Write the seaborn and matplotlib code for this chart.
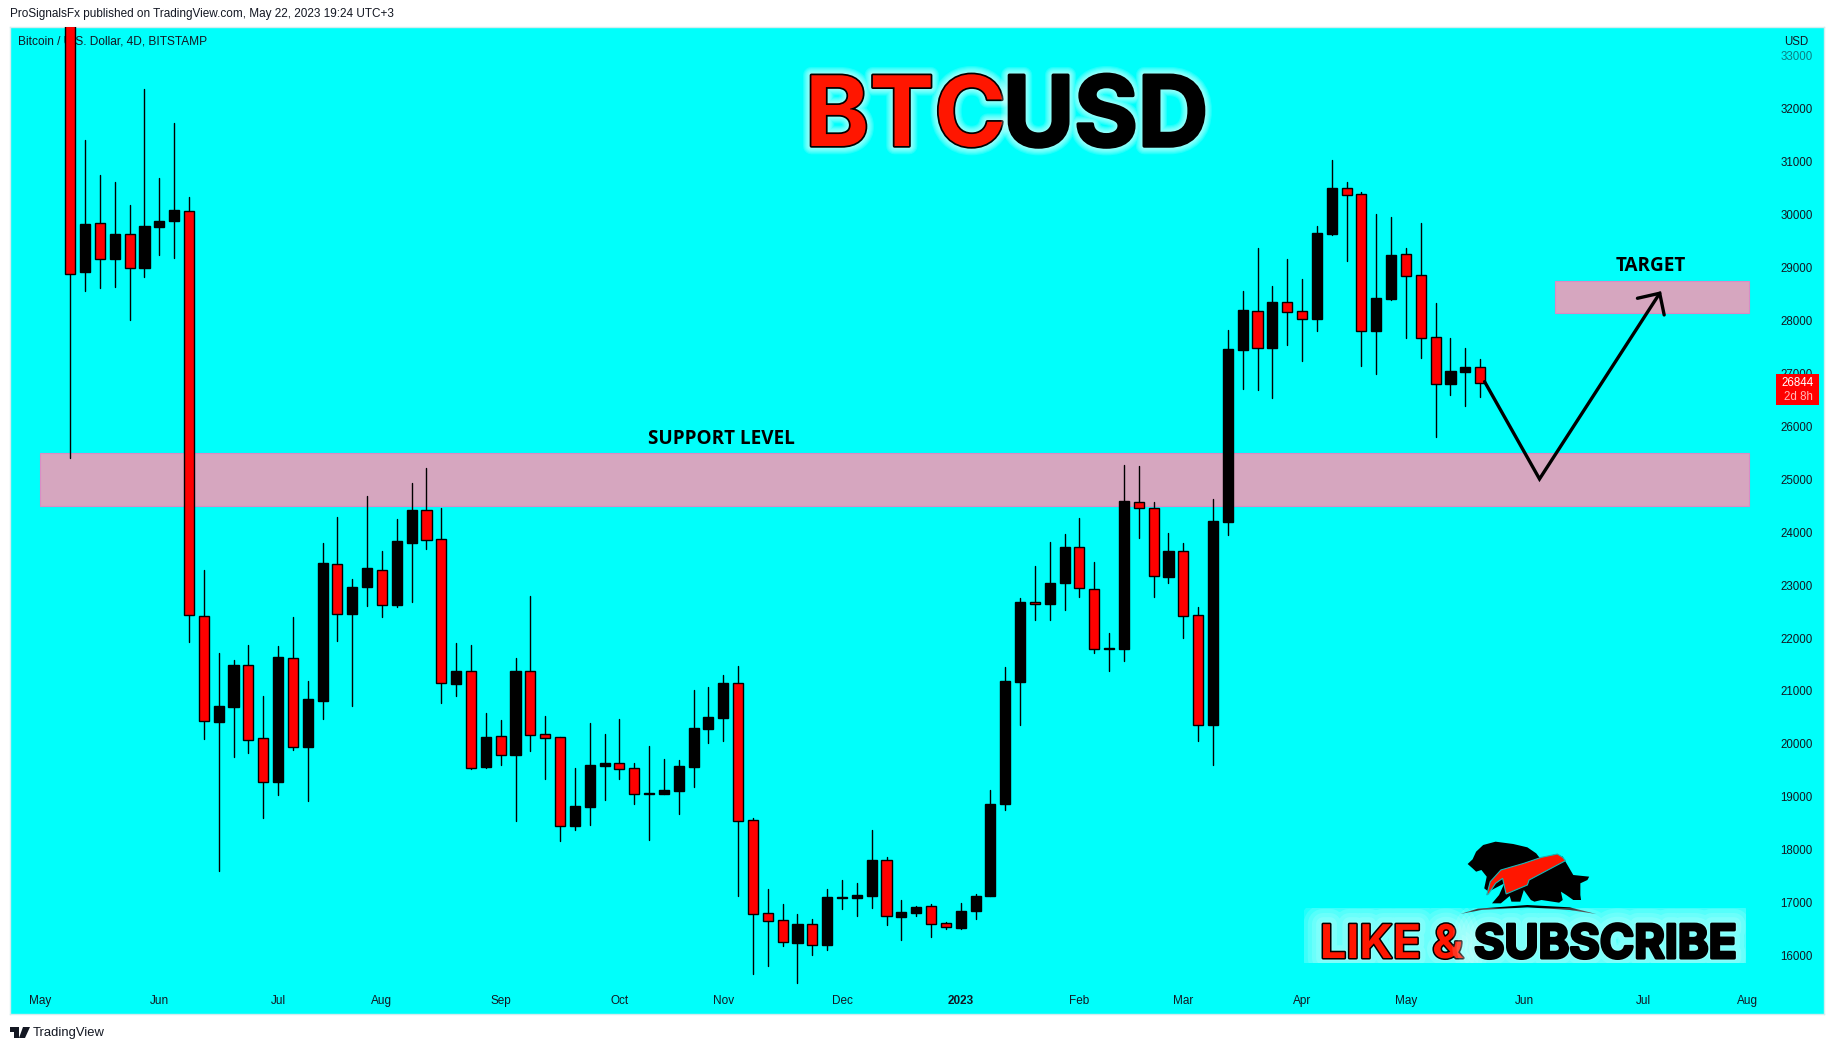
import numpy as np
import pandas as pd
import matplotlib
matplotlib.use("Agg")
import matplotlib.pyplot as plt
import matplotlib.patheffects as pe
import seaborn as sns
from matplotlib.patches import Polygon, Rectangle
from matplotlib.transforms import Affine2D

# BTC/USD 4D candles (first open/high are above the visible range)
opens = [35500, 28918, 29842, 29165, 29634, 29002, 29770, 29881, 30063, 22410,
         20410, 20698, 21484, 20104, 19286, 21618, 19944, 20813, 23394, 22461,
         22966, 23285, 22627, 23797, 24414, 23867, 21132, 21377, 19563, 20142,
         19796, 21371, 20180, 20123, 18454, 18813, 19582, 19632, 19538, 19059,
         19052, 19109, 19563, 20281, 20489, 21144, 18555, 16797, 16665, 16236,
         16589, 16199, 17093, 17087, 17125, 17799, 16728, 16803, 16930, 16607,
         16524, 16850, 17116, 18855, 21178, 22674, 22636, 23031, 23729, 22932,
         21785, 21785, 24580, 24451, 23160, 23638, 22431, 20365, 24200, 27450,
         28175, 27488, 28345, 28175, 28036, 29643, 30500, 30386, 27809, 28408,
         29252, 28855, 27683, 26808, 27034, 27117]
closes = [28885, 29829, 29171, 29640, 29002, 29790, 29881, 30089, 22442, 20436,
          20717, 21490, 20078, 19286, 21643, 19944, 20845, 23420, 22461, 22966,
          23324, 22615, 23835, 24421, 23860, 21145, 21375, 19550, 20130, 19796,
          21377, 20174, 20117, 18454, 18826, 19600, 19638, 19531, 19059, 19065,
          19128, 19582, 20300, 20508, 21150, 18548, 16791, 16658, 16262, 16595,
          16205, 17106, 17100, 17144, 17805, 16753, 16822, 16917, 16602, 16531,
          16850, 17116, 18855, 21185, 22681, 22636, 23038, 23729, 22939, 21801,
          21808, 24587, 24451, 23167, 23646, 22423, 20365, 24215, 27463, 28200,
          27488, 28351, 28169, 28036, 29655, 30506, 30380, 27809, 28427, 29239,
          28849, 27677, 26808, 27047, 27123, 26826]
highs = [36000, 31410, 30753, 30623, 30187, 32380, 30694, 31736, 30336, 23285,
         21720, 21586, 21867, 20902, 21848, 22397, 21190, 23797, 24290, 23113,
         24688, 23643, 24251, 24934, 25215, 24460, 21905, 21868, 20583, 20451,
         21623, 22795, 20527, 20123, 19544, 20394, 20186, 20470, 19638, 19960,
         19714, 19695, 21018, 21075, 21301, 21472, 18599, 17257, 16973, 16784,
         16690, 17257, 17427, 17370, 18372, 17862, 17049, 16936, 16973, 16630,
         16987, 17161, 19128, 21451, 22757, 23365, 23813, 23965, 24268, 23441,
         22097, 25271, 25255, 24580, 23987, 23798, 22590, 24625, 27822, 28559,
         29372, 28654, 29164, 28786, 29788, 31035, 30619, 30430, 30014, 29958,
         29372, 29844, 28332, 27671, 27482, 27274]
lows = [25403, 28560, 28618, 28638, 28013, 28827, 29243, 29184, 21925, 20091,
        17599, 19752, 19829, 18596, 19030, 19886, 18922, 20468, 21944, 20717,
        22608, 22397, 22589, 22678, 23682, 20775, 20902, 19522, 19550, 19600,
        18542, 19865, 19336, 18164, 18372, 18466, 18939, 19336, 18863, 18183,
        19052, 18674, 19185, 20016, 20054, 17125, 15651, 15802, 16180, 15480,
        16010, 16104, 16879, 16747, 16898, 16577, 16293, 16747, 16350, 16493,
        16501, 16683, 17116, 18741, 20365, 22332, 22347, 22522, 22780, 21709,
        21383, 21565, 23881, 22780, 23046, 22000, 20062, 19591, 23947, 26713,
        26694, 26543, 27545, 27242, 27809, 29618, 29132, 27148, 26997, 28389,
        27677, 27293, 25806, 26593, 26392, 26556]

price_ticks = list(range(16000, 34000, 1000))
month_ticks = [-2, 6, 14, 21, 29, 37, 44, 52, 60, 68, 75, 83, 90, 98, 106, 113]
month_labels = ["May", "Jun", "Jul", "Aug", "Sep", "Oct", "Nov", "Dec", "2023",
                "Feb", "Mar", "Apr", "May", "Jun", "Jul", "Aug"]

# drawn zones and the projected path
support_zone = (24490, 25495)
target_zone = (28150, 28742)
path_idx = [95.3, 99.0, 107.1]
path_price = [26845, 25006, 28516]
head_idx = [105.6, 107.1, 107.4]
head_price = [28421, 28516, 28106]

W, H = 1834, 1050
CYAN = "#00FFFB"
INK = "#131722"
PINK = "#D6A6BF"
RED = "#FF0000"
BRAND_RED = "#FF1600"

sns.set_theme(style="white")
plt.rcParams["font.family"] = ["Liberation Sans", "DejaVu Sans"]

df = pd.DataFrame({"idx": np.arange(len(opens)), "open": opens, "close": closes,
                   "high": highs, "low": lows})
df["top"] = df[["open", "close"]].max(axis=1)
df["bottom"] = df[["open", "close"]].min(axis=1)
df["height"] = df["top"] - df["bottom"]

fig = plt.figure(figsize=(W / 100, H / 100), dpi=100, facecolor="white")
ax = fig.add_axes([10 / W, 1 - 1014 / H, (1824 - 10) / W, (1014 - 27) / H])
ax.set_facecolor(CYAN)

# everything that is not on a price scale is placed in image pixels
PX = Affine2D().scale(1, -1).translate(0, H)

ax.add_patch(Rectangle((-2.04, support_zone[0]), 115.14, support_zone[1] - support_zone[0],
                       fc=PINK, ec="#D98CC4", lw=0.8, zorder=1))
ax.add_patch(Rectangle((100.04, target_zone[0]), 13.06, target_zone[1] - target_zone[0],
                       fc=PINK, ec="#D98CC4", lw=0.8, zorder=1))

# wicks
wicks = df.melt(id_vars="idx", value_vars=["high", "low"], value_name="price").sort_values("idx")
sns.lineplot(data=wicks, x="idx", y="price", units="idx", estimator=None, sort=False,
             color="black", lw=1.0, ax=ax, zorder=2, legend=False)

# bodies
for mask, colour in [(df["close"] < df["open"], RED), (df["close"] >= df["open"], "black")]:
    part = df[mask]
    sns.barplot(data=part, x="idx", y="height", bottom=part["bottom"].values, native_scale=True,
                color=colour, saturation=1, width=0.68, errorbar=None, edgecolor="black",
                linewidth=1.0, ax=ax, zorder=3)

# projected path and arrow head
ax.plot(path_idx, path_price, color="black", lw=2.4, solid_joinstyle="miter", zorder=4)
ax.plot(head_idx, head_price, color="black", lw=2.4, solid_joinstyle="miter", zorder=4)

ax.set_xlim(-4.063, 118.17)
ax.set_ylim(14894, 33548)
ax.set_xlabel("")
ax.set_ylabel("")
ax.grid(False)
for s in ax.spines.values():
    s.set_color("#D5ECEE")
    s.set_linewidth(1)

ax.yaxis.tick_right()
ax.set_yticks(price_ticks)
ax.set_yticklabels([str(p) for p in price_ticks])
ax.tick_params(axis="y", length=0, pad=-8, labelsize=8.3, labelcolor=INK)
for lab in ax.get_yticklabels():
    lab.set_ha("right")
ax.get_yticklabels()[-1].set_alpha(0.55)

ax.set_xticks(month_ticks)
ax.set_xticklabels(month_labels)
ax.tick_params(axis="x", length=0, pad=-14, labelsize=8.5, labelcolor=INK)
ax.get_xticklabels()[8].set_fontweight("bold")

# chart notes
ax.text(43.9, 25765, "SUPPORT LEVEL", family="Open Sans", weight="bold", fontsize=13.6,
        color="black", ha="center", va="center", zorder=5)
ax.text(106.5, 29030, "TARGET", family="Open Sans", weight="bold", fontsize=13.6,
        color="black", ha="center", va="center", zorder=5)

# header, footer, scale captions
fig.text(10, 14, "ProSignalsFx published on TradingView.com, May 22, 2023 19:24 UTC+3",
         transform=PX, fontsize=8.45, color=INK, va="center")
ax.text(18, 41, "Bitcoin / U.S. Dollar, 4D, BITSTAMP", transform=PX, fontsize=8.6, color=INK,
        va="center", zorder=1.5)
fig.text(1796, 42, "USD", transform=PX, fontsize=8.3, color=INK, ha="center", va="center")
fig.text(33, 1033, "TradingView", transform=PX, fontsize=9.4, color=INK, va="center")
fig.add_artist(Polygon([(10, 1027), (19, 1027), (19, 1038), (14, 1038), (14, 1032), (10, 1032)],
                       transform=PX, fc=INK, ec="none"))
fig.add_artist(Polygon([(23, 1027), (30, 1027), (25, 1038), (19, 1038)], transform=PX, fc=INK, ec="none"))

# last price tag
fig.add_artist(Rectangle((1776, 374), 43, 31, transform=PX, fc=RED, ec="none"))
fig.text(1798, 383, "26844", transform=PX, fontsize=8.3, color="white", ha="center", va="center")
fig.text(1798, 397, "2d 8h", transform=PX, fontsize=8.3, color="#FFB8B8", ha="center", va="center")


def glow(width, colour="black", edge=1.5):
    steps = [pe.withStroke(linewidth=w, foreground="white", alpha=0.13)
             for w in np.linspace(width, 4, 6)]
    return steps + [pe.withStroke(linewidth=edge, foreground=colour)]


# big title
for text, left, colour in [("BTC", 805, BRAND_RED), ("USD", 1003, "black")]:
    fig.text(left, 146, text, transform=PX, family="Inter", weight="bold", fontsize=70,
             color=colour, va="baseline", path_effects=glow(12, edge=2.5))

# like & subscribe banner
box = Rectangle((1304, 908), 442, 55, transform=PX)
for text, left, colour in [("LIKE &", 1320, BRAND_RED), ("SUBSCRIBE", 1474, "black")]:
    t = fig.text(left, 958, text, transform=PX, family="Inter", weight="bold", fontsize=33.5,
                 color=colour, va="baseline", path_effects=glow(34, edge=2.2))
    t.set_clip_path(box)
    t.set_clip_on(True)

# bull and bear logo, traced by eye from a crop starting at 1280, 820
def logo(points):
    return [(1280 + x / 2.83, 820 + y / 3) for x, y in points]


silhouette = [(531, 132), (545, 118), (555, 95), (575, 75), (610, 65), (660, 72), (700, 82),
              (725, 100), (738, 118), (780, 102), (800, 110), (808, 125), (830, 165), (875, 170),
              (870, 180), (850, 190), (850, 225), (852, 240), (830, 240), (810, 225), (795, 215),
              (800, 240), (790, 248), (740, 240), (720, 245), (710, 240), (690, 210), (680, 245),
              (655, 245), (650, 228), (625, 250), (600, 250), (620, 225), (635, 190), (590, 215),
              (578, 205), (585, 170), (570, 150), (555, 155), (545, 145)]
swoosh = [(585, 225), (595, 185), (625, 150), (690, 130), (740, 112), (785, 102), (800, 112),
          (808, 122), (705, 180), (700, 195), (640, 222), (630, 175), (610, 190), (590, 222)]
ground = [(510, 282), (560, 266), (700, 255), (820, 262), (895, 282), (820, 270), (700, 262), (570, 270)]
fig.add_artist(Polygon(logo(silhouette), transform=PX, fc="black", ec="none"))
fig.add_artist(Polygon(logo(swoosh), transform=PX, fc=BRAND_RED, ec="#15B8B8", lw=0.8))
fig.add_artist(Polygon(logo(ground), transform=PX, fc="black", ec="none"))

fig.savefig("out.png", dpi=100, facecolor="white")
